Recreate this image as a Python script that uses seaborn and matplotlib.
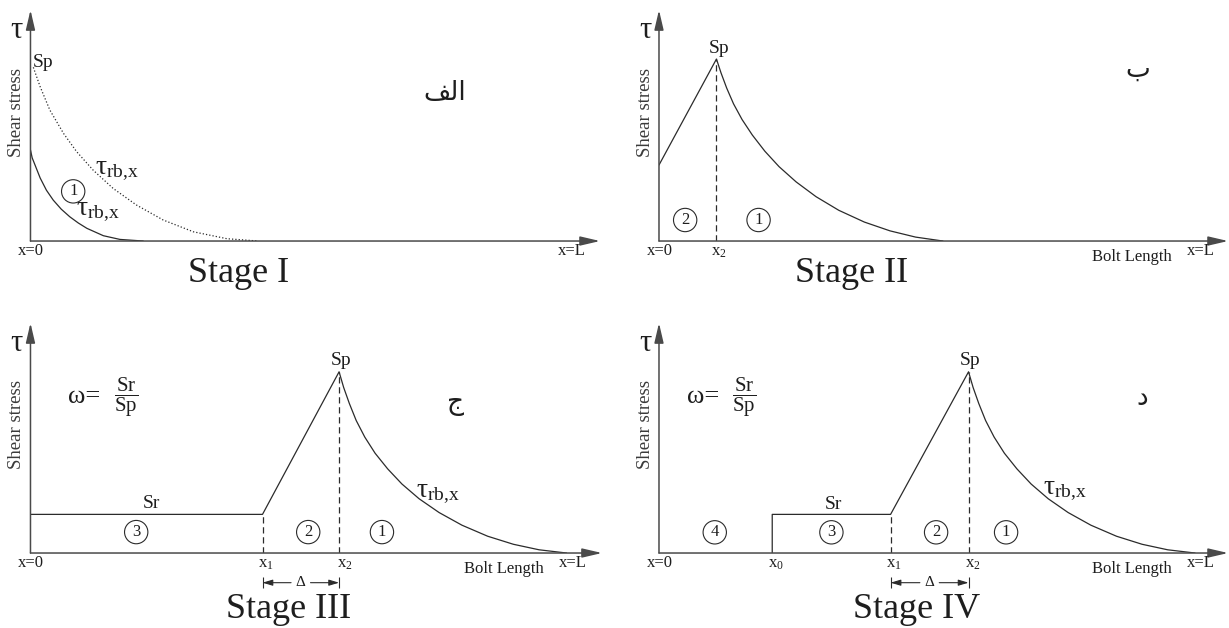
import matplotlib
matplotlib.use("Agg")
import matplotlib.pyplot as plt
import seaborn as sns

# bond shear stress profiles along the bolt
# x: 0 (x=0) .. 100 (tip of the x arrow), y: 0 .. 100 (tip of the tau arrow)
S1_SOLID_X = [0, 0.3, 0.8, 1.7, 2.8, 4.0, 5.4, 6.9, 8.4, 9.9, 12.8, 15.7, 19.8]
S1_SOLID_Y = [39.4, 36.0, 32.9, 27.3, 22.0, 17.7, 13.8, 10.5, 7.8, 5.5, 2.3, 0.7, 0]
S1_DOT_X = [0.5, 1.7, 3.4, 5.8, 8.1, 11.0, 14.5, 18.6, 23.3, 28.6, 34.5, 40.0]
S1_DOT_Y = [75.2, 66.8, 56.7, 46.6, 38.7, 30.7, 22.8, 15.6, 9.1, 4.0, 1.0, 0]

S2_X = [0, 10.1, 10.9, 11.9, 13.1, 14.6, 16.4, 18.6, 21.1, 24.1, 27.6, 31.6, 36.1,
        40.6, 45.1, 49.9]
S2_Y = [32.9, 78.8, 72.8, 66.2, 59.4, 52.6, 45.9, 38.9, 32.2, 25.6, 19.2, 13.3, 8.2,
        4.4, 1.7, 0]

S3_X = [0, 40.6, 54.0, 54.8, 55.8, 57.0, 58.5, 60.3, 62.5, 65.0, 68.0, 71.5, 75.5,
        80.0, 84.5, 89.0, 93.8]
S3_Y = [16.8, 16.8, 78.8, 72.0, 65.0, 57.6, 50.4, 43.4, 36.6, 30.0, 23.6, 17.6, 12.1,
        7.3, 3.8, 1.4, 0]

S4_X = [19.9, 19.9, 40.7, 54.4, 55.2, 56.2, 57.4, 58.9, 60.7, 62.9, 65.4, 68.4, 71.9,
        75.9, 80.4, 84.9, 89.4, 94.2]
S4_Y = [0, 16.8, 16.8, 78.8, 72.0, 65.0, 57.6, 50.4, 43.4, 36.6, 30.0, 23.6, 17.6,
        12.1, 7.3, 3.8, 1.4, 0]

SP = 78.8
SR = 16.8
S2_X2 = 10.1
S3_X1, S3_X2 = 40.6, 54.0
S4_X0, S4_X1, S4_X2 = 19.9, 40.7, 54.4

STAGE_TITLES = ["Stage I", "Stage II", "Stage III", "Stage IV"]
PANEL_LETTERS = ["الف", "ب", "ج", "د"]
# matplotlib does no arabic shaping, so give it the joined forms in visual order
SHAPED = {"الف": "\ufed2\ufedf\ufe8d"}

AX_C = "#4a4a4a"
LINE_C = "#2b2b2b"
TXT_C = "#1e1e1e"
TAU_LBL = r"τ$_{rb{,}x}$"

sns.set_theme(style="white")
plt.rcParams["font.family"] = ["Liberation Serif", "DejaVu Sans"]
plt.rcParams["mathtext.fontset"] = "stix"
plt.rcParams["mathtext.default"] = "regular"

fig = plt.figure(figsize=(12.29, 6.28), dpi=100)
boxes = [
    [0.0248, 0.6162, 0.4634, 0.3678],
    [0.5362, 0.6162, 0.4630, 0.3678],
    [0.0248, 0.1194, 0.4650, 0.3662],
    [0.5362, 0.1194, 0.4630, 0.3662],
]
axes = [fig.add_axes(b) for b in boxes]


def frame(ax):
    arrow = dict(arrowstyle="-|>,head_length=0.6,head_width=0.14", color=AX_C,
                 lw=1.1, shrinkA=0, shrinkB=0, mutation_scale=20)
    ax.annotate("", xy=(100, 0), xytext=(0, 0), arrowprops=arrow, annotation_clip=False)
    ax.annotate("", xy=(0, 100), xytext=(0, 0), arrowprops=arrow, annotation_clip=False)
    ax.text(-2.4, 91.0, "τ", fontsize=22, ha="center", va="center", color=TXT_C)
    ax.text(-2.4, 55.8, "Shear stress", fontsize=13.5, rotation=90, ha="center",
            va="center", color="#3a3a3a")


def profile(ax, xs, ys, ls="-"):
    sns.lineplot(x=xs, y=ys, ax=ax, sort=False, estimator=None, color=LINE_C,
                 lw=0.9, linestyle=ls)


def circled(ax, x, y, s):
    ax.text(x, y, s, fontsize=12, ha="center", va="center", color=TXT_C,
            bbox=dict(boxstyle="circle,pad=0.22", fc="none", ec=LINE_C, lw=0.8))


def xlabel(ax, x, s, ha="left"):
    ax.text(x, -6.2, s, fontsize=12, ha=ha, va="baseline", color=TXT_C)


def delta(ax, xa, xb):
    y = -12.9
    mid = (xa + xb) / 2
    ax.vlines([xa, xb], -10.4, -15.0, colors=LINE_C, lw=0.8, clip_on=False)
    ax.text(mid, y, "Δ", fontsize=11, ha="center", va="center", color=TXT_C)
    arr = dict(arrowstyle="-|>,head_length=0.6,head_width=0.18", color=LINE_C,
               lw=0.8, shrinkA=0, shrinkB=0, mutation_scale=10)
    ax.annotate("", xy=(xa, y), xytext=(mid - 1.7, y), arrowprops=arr, annotation_clip=False)
    ax.annotate("", xy=(xb, y), xytext=(mid + 1.7, y), arrowprops=arr, annotation_clip=False)


def omega(ax, x):
    ax.text(x, 67.8, "ω=", fontsize=19, ha="center", va="center", color=TXT_C)
    ax.text(x + 7.3, 67.8, r"$\dfrac{Sr}{Sp}$", fontsize=15, ha="center",
            va="center", color=TXT_C)


for ax in axes:
    frame(ax)

# Stage I
ax = axes[0]
profile(ax, S1_SOLID_X, S1_SOLID_Y)
profile(ax, S1_DOT_X, S1_DOT_Y, ls=":")
ax.text(2.2, 77.5, "Sp", fontsize=14, ha="center", va="center", color=TXT_C)
circled(ax, 7.5, 21.5, "1")
ax.text(11.4, 30.7, TAU_LBL, fontsize=20, ha="left", va="center", color=TXT_C)
ax.text(8.0, 12.6, TAU_LBL, fontsize=20, ha="left", va="center", color=TXT_C)
xlabel(ax, 0, "x=0", ha="center")
xlabel(ax, 92.6, "x=L")

# Stage II
ax = axes[1]
profile(ax, S2_X, S2_Y)
ax.vlines(S2_X2, 0, SP, colors=LINE_C, lw=0.9, linestyles=(0, (5, 3)))
ax.text(S2_X2 + 0.4, SP + 4.7, "Sp", fontsize=14, ha="center", va="center", color=TXT_C)
circled(ax, 4.6, 9.1, "2")
circled(ax, 17.5, 9.1, "1")
xlabel(ax, 0.2, "x=0", ha="center")
xlabel(ax, 9.1, "x$_2$")
xlabel(ax, 92.8, "x=L")
ax.text(83.1, -8.5, "Bolt Length", fontsize=12, ha="center", va="baseline", color=TXT_C)

# Stage III
ax = axes[2]
profile(ax, S3_X, S3_Y)
ax.vlines([S3_X1, S3_X2], 0, [SR, SP], colors=LINE_C, lw=0.9, linestyles=(0, (5, 3)))
ax.text(S3_X2 + 0.3, SP + 5.1, "Sp", fontsize=14, ha="center", va="center", color=TXT_C)
ax.text(21.1, 21.7, "Sr", fontsize=14, ha="center", va="center", color=TXT_C)
omega(ax, 9.4)
circled(ax, 18.5, 9.1, "3")
circled(ax, 48.6, 9.1, "2")
circled(ax, 61.5, 9.1, "1")
ax.text(67.4, 25.7, TAU_LBL, fontsize=20, ha="left", va="center", color=TXT_C)
xlabel(ax, 0, "x=0", ha="center")
xlabel(ax, 39.8, "x$_1$")
xlabel(ax, 53.6, "x$_2$")
xlabel(ax, 92.4, "x=L")
ax.text(82.9, -8.6, "Bolt Length", fontsize=12, ha="center", va="baseline", color=TXT_C)
delta(ax, S3_X1, S3_X2)

# Stage IV
ax = axes[3]
profile(ax, S4_X, S4_Y)
ax.vlines([S4_X1, S4_X2], 0, [SR, SP], colors=LINE_C, lw=0.9, linestyles=(0, (5, 3)))
ax.text(S4_X2 + 0.3, SP + 5.1, "Sp", fontsize=14, ha="center", va="center", color=TXT_C)
ax.text(30.6, 21.0, "Sr", fontsize=14, ha="center", va="center", color=TXT_C)
omega(ax, 7.7)
circled(ax, 9.8, 9.0, "4")
circled(ax, 30.3, 9.0, "3")
circled(ax, 48.7, 9.0, "2")
circled(ax, 61.0, 9.0, "1")
ax.text(67.5, 27.0, TAU_LBL, fontsize=20, ha="left", va="center", color=TXT_C)
xlabel(ax, 0.2, "x=0", ha="center")
xlabel(ax, 19.2, "x$_0$")
xlabel(ax, 39.9, "x$_1$")
xlabel(ax, 53.7, "x$_2$")
xlabel(ax, 92.8, "x=L")
ax.text(83.1, -8.6, "Bolt Length", fontsize=12, ha="center", va="baseline", color=TXT_C)
delta(ax, S4_X1, S4_X2)

# panel letters and stage titles
letter_pos = [(72.8, 64.1), (84.2, 74.0), (74.4, 65.4), (84.9, 67.4)]
title_pos = [(36.6, -17.7), (33.9, -17.7), (45.1, -28.3), (45.3, -28.3)]
for ax, letter, lp, title, tp in zip(axes, PANEL_LETTERS, letter_pos, STAGE_TITLES, title_pos):
    ax.text(lp[0], lp[1], SHAPED.get(letter, letter), fontsize=19, family=["DejaVu Sans"],
            ha="center", va="center", color=TXT_C)
    ax.text(tp[0], tp[1], title, fontsize=26, ha="center", va="baseline", color=TXT_C)
    ax.set_xlim(0, 100)
    ax.set_ylim(0, 100)
    ax.axis("off")

fig.savefig("out.png", dpi=100)
